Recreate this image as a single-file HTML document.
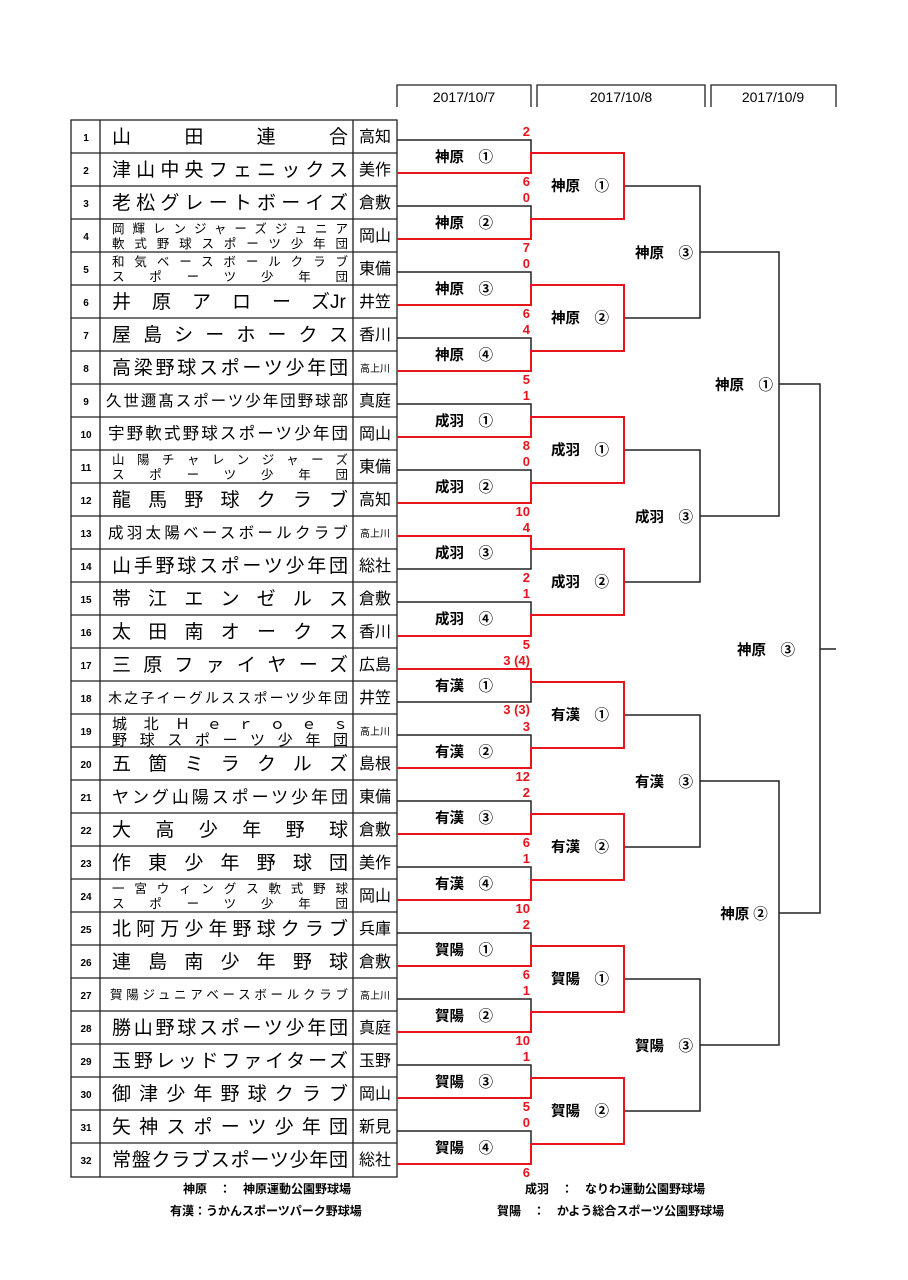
<!DOCTYPE html>
<html><head><meta charset="utf-8"><style>
html,body{margin:0;padding:0;background:#fff;}
svg{display:block;font-family:"Liberation Sans","Noto Sans CJK JP",sans-serif;}
.n{font-size:19px;}
.s{font-size:12.5px;}
.r{font-size:16px;}
.rs{font-size:10px;}
.num{font-size:10px;font-weight:bold;}
.lb{font-size:14.5px;font-weight:bold;}
.sc{font-size:13px;font-weight:bold;fill:#e8141b;}
.d{font-size:14px;}
.f{font-size:12px;font-weight:bold;}
</style></head><body>
<svg width="908" height="1280" viewBox="0 0 908 1280" xmlns="http://www.w3.org/2000/svg">
<rect width="908" height="1280" fill="#fff"/>
<g fill="none" stroke="#222" stroke-width="1.3">
<path d="M397 107V85H531V107"/><path d="M537 107V85H705V107"/><path d="M711 107V85H836V107"/>
</g>
<text class="d" x="464" y="102" text-anchor="middle">2017/10/7</text>
<text class="d" x="621" y="102" text-anchor="middle">2017/10/8</text>
<text class="d" x="773" y="102" text-anchor="middle">2017/10/9</text>

<g fill="none" stroke="#222" stroke-width="1.3">
<rect x="71" y="120" width="326" height="1057"/>
<path d="M100 120V1177M353 120V1177"/>
<path d="M71 153H397M71 186H397M71 219H397M71 252H397M71 285H397M71 318H397M71 351H397M71 384H397M71 417H397M71 450H397M71 483H397M71 516H397M71 549H397M71 582H397M71 615H397M71 648H397M71 681H397M71 714H397M71 747H397M71 780H397M71 813H397M71 846H397M71 879H397M71 912H397M71 945H397M71 978H397M71 1011H397M71 1044H397M71 1077H397M71 1110H397M71 1143H397"/>
</g>
<g class="num" text-anchor="middle">
<text x="86" y="141">1</text><text x="86" y="174">2</text><text x="86" y="207">3</text><text x="86" y="240">4</text><text x="86" y="273">5</text><text x="86" y="306">6</text><text x="86" y="339">7</text><text x="86" y="372">8</text><text x="86" y="405">9</text><text x="86" y="438">10</text><text x="86" y="471">11</text><text x="86" y="504">12</text><text x="86" y="537">13</text><text x="86" y="570">14</text><text x="86" y="603">15</text><text x="86" y="636">16</text><text x="86" y="669">17</text><text x="86" y="702">18</text><text x="86" y="735">19</text><text x="86" y="768">20</text><text x="86" y="801">21</text><text x="86" y="834">22</text><text x="86" y="867">23</text><text x="86" y="900">24</text><text x="86" y="933">25</text><text x="86" y="966">26</text><text x="86" y="999">27</text><text x="86" y="1032">28</text><text x="86" y="1065">29</text><text x="86" y="1098">30</text><text x="86" y="1131">31</text><text x="86" y="1164">32</text>
</g>
<g>
<text class="n" x="112" y="143" textLength="236" lengthAdjust="spacing">山田連合</text>
<text class="n" x="112" y="176" textLength="236" lengthAdjust="spacing">津山中央フェニックス</text>
<text class="n" x="112" y="209" textLength="236" lengthAdjust="spacing">老松グレートボーイズ</text>
<text class="s" x="112" y="233" textLength="236" lengthAdjust="spacing">岡輝レンジャーズジュニア</text>
<text class="s" x="112" y="248" textLength="236" lengthAdjust="spacing">軟式野球スポーツ少年団</text>
<text class="s" x="112" y="266" textLength="236" lengthAdjust="spacing">和気ベースボールクラブ</text>
<text class="s" x="112" y="281" textLength="236" lengthAdjust="spacing">スポーツ少年団</text>
<text class="n" x="112" y="308" textLength="218" lengthAdjust="spacing">井原アローズ</text>
<text class="n" x="330" y="308">Jr</text>
<text class="n" x="112" y="341" textLength="236" lengthAdjust="spacing">屋島シーホークス</text>
<text class="n" x="112" y="374" textLength="236" lengthAdjust="spacing">高梁野球スポーツ少年団</text>
<text style="font-size:15.5px" x="106" y="406" textLength="242" lengthAdjust="spacing">久世邇髙スポーツ少年団野球部</text>
<text style="font-size:16.5px" x="108" y="439" textLength="240" lengthAdjust="spacing">宇野軟式野球スポーツ少年団</text>
<text class="s" x="112" y="464" textLength="236" lengthAdjust="spacing">山陽チャレンジャーズ</text>
<text class="s" x="112" y="479" textLength="236" lengthAdjust="spacing">スポーツ少年団</text>
<text class="n" x="112" y="506" textLength="236" lengthAdjust="spacing">龍馬野球クラブ</text>
<text style="font-size:15.5px" x="108" y="538" textLength="240" lengthAdjust="spacing">成羽太陽ベースボールクラブ</text>
<text class="n" x="112" y="572" textLength="236" lengthAdjust="spacing">山手野球スポーツ少年団</text>
<text class="n" x="112" y="605" textLength="236" lengthAdjust="spacing">帯江エンゼルス</text>
<text class="n" x="112" y="638" textLength="236" lengthAdjust="spacing">太田南オークス</text>
<text class="n" x="112" y="671" textLength="236" lengthAdjust="spacing">三原ファイヤーズ</text>
<text style="font-size:14px" x="108" y="703" textLength="240" lengthAdjust="spacing">木之子イーグルススポーツ少年団</text>
<text style="font-size:15px" x="112" y="729" textLength="236" lengthAdjust="spacing">城北Ｈｅｒｏｅｓ</text>
<text style="font-size:15px" x="112" y="745" textLength="236" lengthAdjust="spacing">野球スポーツ少年団</text>
<text class="n" x="112" y="770" textLength="236" lengthAdjust="spacing">五箇ミラクルズ</text>
<text style="font-size:17px" x="112" y="803" textLength="236" lengthAdjust="spacing">ヤング山陽スポーツ少年団</text>
<text class="n" x="112" y="836" textLength="236" lengthAdjust="spacing">大高少年野球</text>
<text class="n" x="112" y="869" textLength="236" lengthAdjust="spacing">作東少年野球団</text>
<text class="s" x="112" y="893" textLength="236" lengthAdjust="spacing">一宮ウィングス軟式野球</text>
<text class="s" x="112" y="908" textLength="236" lengthAdjust="spacing">スポーツ少年団</text>
<text class="n" x="112" y="935" textLength="236" lengthAdjust="spacing">北阿万少年野球クラブ</text>
<text class="n" x="112" y="968" textLength="236" lengthAdjust="spacing">連島南少年野球</text>
<text style="font-size:12.5px" x="110" y="999" textLength="238" lengthAdjust="spacing">賀陽ジュニアベースボールクラブ</text>
<text class="n" x="112" y="1034" textLength="236" lengthAdjust="spacing">勝山野球スポーツ少年団</text>
<text class="n" x="112" y="1067" textLength="236" lengthAdjust="spacing">玉野レッドファイターズ</text>
<text class="n" x="112" y="1100" textLength="236" lengthAdjust="spacing">御津少年野球クラブ</text>
<text class="n" x="112" y="1133" textLength="236" lengthAdjust="spacing">矢神スポーツ少年団</text>
<text class="n" x="112" y="1166" textLength="236" lengthAdjust="spacing">常盤クラブスポーツ少年団</text>
</g>
<g class="r" text-anchor="middle">
<text x="375" y="142">高知</text><text x="375" y="175">美作</text><text x="375" y="208">倉敷</text><text x="375" y="241">岡山</text><text x="375" y="274">東備</text><text x="375" y="307">井笠</text><text x="375" y="340">香川</text><text class="rs" x="375" y="372">高上川</text><text x="375" y="406">真庭</text><text x="375" y="439">岡山</text><text x="375" y="472">東備</text><text x="375" y="505">高知</text><text class="rs" x="375" y="537">高上川</text><text x="375" y="571">総社</text><text x="375" y="604">倉敷</text><text x="375" y="637">香川</text><text x="375" y="670">広島</text><text x="375" y="703">井笠</text><text class="rs" x="375" y="735">高上川</text><text x="375" y="769">島根</text><text x="375" y="802">東備</text><text x="375" y="835">倉敷</text><text x="375" y="868">美作</text><text x="375" y="901">岡山</text><text x="375" y="934">兵庫</text><text x="375" y="967">倉敷</text><text class="rs" x="375" y="999">高上川</text><text x="375" y="1033">真庭</text><text x="375" y="1066">玉野</text><text x="375" y="1099">岡山</text><text x="375" y="1132">新見</text><text x="375" y="1165">総社</text>
</g>

<g fill="none" stroke="#222" stroke-width="1.5">
<path d="M397 140H531V173H397"/><path d="M397 206H531V239H397"/><path d="M397 272H531V305H397"/><path d="M397 338H531V371H397"/>
<path d="M397 404H531V437H397"/><path d="M397 470H531V503H397"/><path d="M397 536H531V569H397"/><path d="M397 602H531V636H397"/>
<path d="M397 669H531V702H397"/><path d="M397 735H531V768H397"/><path d="M397 801H531V834H397"/><path d="M397 867H531V900H397"/>
<path d="M397 933H531V966H397"/><path d="M397 999H531V1032H397"/><path d="M397 1065H531V1098H397"/><path d="M397 1131H531V1164H397"/>
<path d="M624 186H700V318H624M624 450H700V582H624M624 715H700V847H624M624 979H700V1111H624"/>
<path d="M700 252H779V516H700M700 781H779V1045H700"/>
<path d="M779 384H820V913H779M820 649H836"/>
</g>
<g fill="none" stroke="#e8141b" stroke-width="2">
<path d="M397 173H531V153H624V219H531V239H397"/>
<path d="M397 305H531V285H624V351H531V371H397"/>
<path d="M397 437H531V417H624V483H531V503H397"/>
<path d="M397 536H531V549H624V615H531V636H397"/>
<path d="M397 669H531V682H624V748H531V768H397"/>
<path d="M397 834H531V814H624V880H531V900H397"/>
<path d="M397 966H531V946H624V1012H531V1032H397"/>
<path d="M397 1098H531V1078H624V1144H531V1164H397"/>
</g>

<g class="lb" text-anchor="middle">
<text x="464" y="162">神原　①</text><text x="464" y="228">神原　②</text><text x="464" y="294">神原　③</text><text x="464" y="360">神原　④</text>
<text x="464" y="426">成羽　①</text><text x="464" y="492">成羽　②</text><text x="464" y="558">成羽　③</text><text x="464" y="624">成羽　④</text>
<text x="464" y="691">有漢　①</text><text x="464" y="757">有漢　②</text><text x="464" y="823">有漢　③</text><text x="464" y="889">有漢　④</text>
<text x="464" y="955">賀陽　①</text><text x="464" y="1021">賀陽　②</text><text x="464" y="1087">賀陽　③</text><text x="464" y="1153">賀陽　④</text>
<text x="580" y="191">神原　①</text><text x="580" y="323">神原　②</text><text x="580" y="455">成羽　①</text><text x="580" y="587">成羽　②</text>
<text x="580" y="720">有漢　①</text><text x="580" y="852">有漢　②</text><text x="580" y="984">賀陽　①</text><text x="580" y="1116">賀陽　②</text>
<text x="664" y="258">神原　③</text><text x="664" y="522">成羽　③</text><text x="664" y="787">有漢　③</text><text x="664" y="1051">賀陽　③</text>
<text x="744" y="390">神原　①</text><text x="744" y="919">神原 ②</text>
<text x="766" y="655">神原　③</text>
</g>

<g class="sc" text-anchor="end">
<text x="530" y="136">2</text><text x="530" y="186">6</text>
<text x="530" y="202">0</text><text x="530" y="252">7</text>
<text x="530" y="268">0</text><text x="530" y="318">6</text>
<text x="530" y="334">4</text><text x="530" y="384">5</text>
<text x="530" y="400">1</text><text x="530" y="450">8</text>
<text x="530" y="466">0</text><text x="530" y="516">10</text>
<text x="530" y="532">4</text><text x="530" y="582">2</text>
<text x="530" y="598">1</text><text x="530" y="649">5</text>
<text x="530" y="665">3 (4)</text><text x="530" y="714">3 (3)</text>
<text x="530" y="731">3</text><text x="530" y="781">12</text>
<text x="530" y="797">2</text><text x="530" y="847">6</text>
<text x="530" y="863">1</text><text x="530" y="913">10</text>
<text x="530" y="929">2</text><text x="530" y="979">6</text>
<text x="530" y="995">1</text><text x="530" y="1045">10</text>
<text x="530" y="1061">1</text><text x="530" y="1111">5</text>
<text x="530" y="1127">0</text><text x="530" y="1177">6</text>
</g>

<g class="f">
<text x="183" y="1193">神原　：　神原運動公園野球場</text>
<text x="525" y="1193">成羽　：　なりわ運動公園野球場</text>
<text x="170" y="1215">有漢：うかんスポーツパーク野球場</text>
<text x="497" y="1215">賀陽　：　かよう総合スポーツ公園野球場</text>
</g>
</svg>
</body></html>
